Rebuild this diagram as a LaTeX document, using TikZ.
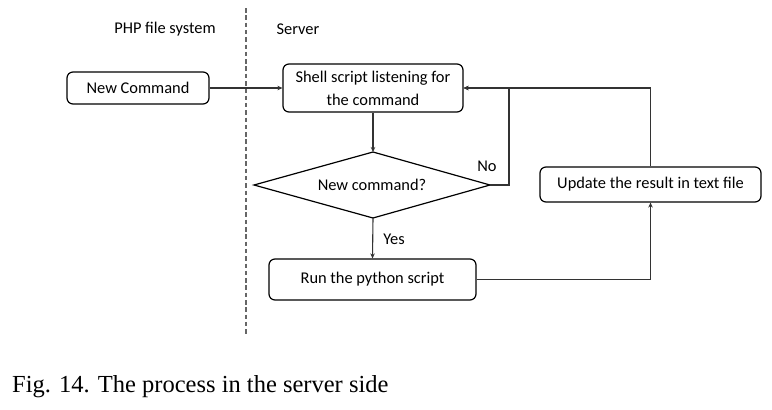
\documentclass[tikz,border=0pt]{standalone}
\usepackage{fontspec}
\setmainfont{Carlito}
\newfontfamily\capfont{Liberation Serif}
\usetikzlibrary{shapes.geometric,arrows.meta}
\tikzset{
  procbox/.style={draw=black, line width=1.2pt, rounded corners=6pt, inner sep=0pt, align=center, font=\fontsize{16.4}{23}\selectfont},
  decline/.style={draw=black, line width=1.2pt},
  lbl/.style={inner sep=0pt, font=\fontsize{16.4}{20}\selectfont},
  conn/.style={draw=black!80, line width=1.1pt, -{Stealth[length=5pt,width=4.5pt]}},
  sep/.style={draw=black!60, line width=1.6pt, dash pattern=on 4.5pt off 2.8pt}
}
\begin{document}
\begin{tikzpicture}[x=1pt,y=-1pt]
\useasboundingbox[fill=white] (0,0) rectangle (772,410);
% column headers
\node[lbl] (php) at (165,29) {PHP file system};
\node[lbl] (srv) at (298,29) {Server};
% separator
\coordinate (septop) at (246,8);
\coordinate (sepbot) at (246,336);
\draw[sep] (septop) -- (sepbot);
% nodes
\node[procbox, minimum width=142pt, minimum height=32pt] (newcmd) at (138,88) {New Command};
\node[procbox, minimum width=180pt, minimum height=48pt] (shell) at (373,88) {Shell script listening for\\the command};
% decision diamond
\coordinate (decN) at (373,152);
\coordinate (decS) at (373,218);
\coordinate (decE) at (490,185);
\coordinate (decW) at (254,185);
\draw[decline] (decN) -- (decE) -- (decS) -- (decW) -- cycle;
\node[lbl] (dec) at (372,185) {New command?};
\node[procbox, minimum width=207pt, minimum height=41pt] (run) at (372.5,279.5) {Run the python script};
\node[procbox, minimum width=221pt, minimum height=35pt] (upd) at (650.5,184.5) {Update the result in text file};
% labels
\node[lbl] (no) at (487,166) {No};
\node[lbl] (yes) at (394,239) {Yes};
% connectors
\coordinate (nocorner) at (509,185);
\draw[conn] (newcmd.east) -- (shell.west);
\draw[conn] (shell.south) -- (decN);
\draw[conn] (decS) -- (run.north);
\draw[conn] (decE) -- (nocorner) |- (shell.east);
\draw[conn] (run.east) -| (upd.south);
\draw[conn] (upd.north) |- (shell.east);
% caption
\node[inner sep=0pt, anchor=base west, font=\capfont\fontsize{24.5}{28}\selectfont] (cap) at (12,392) {Fig. 14. The process in the server side};
\end{tikzpicture}
\end{document}
